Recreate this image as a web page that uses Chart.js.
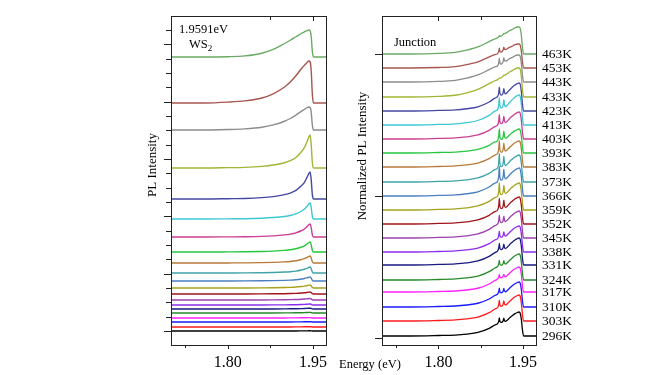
<!DOCTYPE html>
<html>
<head>
<meta charset="utf-8">
<script src="https://cdn.jsdelivr.net/npm/chart.js@4.4.1/dist/chart.umd.min.js"></script>
<style>
  html, body { margin: 0; padding: 0; background: #fff; }
  #wrap { position: relative; width: 667px; height: 375px; overflow: hidden; }
  #leftChart { position: absolute; left: 0; top: 0; }
  #rightChart { position: absolute; left: 330px; top: 0; }
</style>
</head>
<body>
<div id="wrap">
  <canvas id="leftChart" width="336" height="375"></canvas>
  <canvas id="rightChart" width="337" height="375"></canvas>
</div>
<script>
// temperatures, top curve first
const temps = ['463K', '453K', '443K', '433K', '423K', '413K', '403K', '393K', '383K', '373K', '366K',
  '359K', '352K', '345K', '338K', '331K', '324K', '317K', '310K', '303K', '296K'];
const colors = ['#6aaa64', '#a8554f', '#8c8c8c', '#a3b534', '#4548a3', '#3cc8d2', '#cc3d95', '#27c63f',
  '#b87a38', '#3fa3a8', '#4a80c0', '#a6a21e', '#a0151b', '#9d3fb0', '#8c2cf0', '#181a80', '#26892a',
  '#ff22ff', '#1a1aff', '#ff1a1a', '#000000'];

// left panel: PL intensity (offset stack)
const energyL = [1.700, 1.760, 1.800, 1.830, 1.860, 1.880, 1.900, 1.910, 1.920, 1.930, 1.935, 1.940, 1.943, 1.945, 1.947, 1.949, 1.951, 1.973];
const broadL  = [0, 0, 0.01, 0.04, 0.14, 0.28, 0.50, 0.62, 0.75, 0.88, 0.93, 0.98, 1.00, 0.97, 0.75, 0.20, 0, 0];
const midL    = [0, 0, 0.02, 0.05, 0.12, 0.22, 0.38, 0.50, 0.65, 0.82, 0.90, 0.97, 1.00, 0.98, 0.75, 0.20, 0, 0];
const sharpL  = [0, 0, 0.01, 0.02, 0.05, 0.09, 0.16, 0.22, 0.32, 0.50, 0.62, 0.82, 0.95, 1.00, 0.70, 0.15, 0, 0];
const profileL = [0, 1, 1, 2, 2, 2, 2, 2, 2, 2, 2, 2, 2, 2, 2, 2, 2, 2, 2, 2, 2];
const offsetL = [288, 242, 215, 177, 146, 126, 108, 93, 82, 72, 64, 57, 51, 45, 40, 36, 32, 27, 23, 18, 14];
const peakL   = [27, 42, 23, 33, 27, 16, 13, 10, 7, 6, 4, 3, 2, 1.5, 1, 0.8, 0.6, 0.4, 0.3, 0.3, 0.2];

// right panel: normalized PL (junction)
const energyR = [1.700, 1.750, 1.800, 1.830, 1.850, 1.870, 1.890, 1.900, 1.905, 1.907, 1.908, 1.909, 1.911, 1.913,
  1.915, 1.916, 1.917, 1.919, 1.922, 1.926, 1.930, 1.935, 1.940, 1.943, 1.945, 1.947, 1.949, 1.951, 1.960, 1.973];
const humpHotR  = [0, 0, 0.02, 0.06, 0.14, 0.26, 0.46, 0.56, 0.60, 0.62, 0.63, 0.64, 0.66, 0.69,
  0.72, 0.73, 0.74, 0.77, 0.80, 0.86, 0.90, 0.96, 1.00, 1.00, 0.95, 0.70, 0.25, 0, 0, 0];
const humpCoolR = [0, 0, 0.02, 0.04, 0.08, 0.15, 0.32, 0.46, 0.52, 0.54, 0.55, 0.56, 0.57, 0.58,
  0.60, 0.60, 0.60, 0.61, 0.66, 0.75, 0.83, 0.92, 0.98, 1.00, 0.95, 0.70, 0.25, 0, 0, 0];
const spikeR    = [0, 0, 0, 0, 0, 0, 0, 0, 0, 0.4, 1.0, 0.25, 0, 0,
  0.25, 0.7, 0.25, 0, 0, 0, 0, 0, 0, 0, 0, 0, 0, 0, 0, 0];
const profileR = [0, 0, 0, 0, 1, 1, 1, 1, 1, 1, 1, 1, 1, 1, 1, 1, 1, 1, 1, 1, 1];
const offsetR = [291, 277, 263, 248, 234, 220, 206, 192, 178, 163, 149, 135, 121, 107, 93, 80, 65, 53, 38, 24, 9];
const peakR   = [27, 24, 27, 29, 28, 30, 27, 24, 26, 27, 28, 27, 27, 27, 26, 27, 26, 25, 25, 26, 24];
const spikeAmpR = [0.05, 0.2, 0.25, 0.03, 0.3, 0.35, 0.35, 0.45, 0.45, 0.5, 0.5, 0.45, 0.4, 0.3, 0.25, 0.25, 0.2, 0.15, 0.2, 0.25, 0.2];

const xTicks = [1.725, 1.80, 1.875, 1.95];
const xTickLabels = ['', '1.80', '', '1.95'];
const rightYTicks = [7, 149, 291];

const SERIF = "'Liberation Serif', 'Times New Roman', serif";

const leftDatasets = temps.map((t, k) => {
  const prof = [broadL, midL, sharpL][profileL[k]];
  return {
    label: t,
    data: energyL.map((e, i) => ({ x: e, y: offsetL[k] + peakL[k] * prof[i] })),
    borderColor: colors[k],
    borderWidth: 1.4,
    pointRadius: 0,
    cubicInterpolationMode: 'monotone'
  };
});

const rightDatasets = temps.map((t, k) => {
  const hump = [humpHotR, humpCoolR][profileR[k]];
  return {
    label: t,
    data: energyR.map((e, i) => ({ x: e, y: offsetR[k] + peakR[k] * (hump[i] + spikeAmpR[k] * spikeR[i]) })),
    borderColor: colors[k],
    borderWidth: 1.3,
    pointRadius: 0,
    cubicInterpolationMode: 'monotone'
  };
});

function tickLine(ctx, x1, y1, x2, y2) {
  ctx.beginPath();
  ctx.moveTo(x1, y1);
  ctx.lineTo(x2, y2);
  ctx.stroke();
}

// box + tick marks (bottom out, top mirrored inward, left out)
function framePlugin(yTicks, topTicks, texts) {
  return {
    id: 'frame',
    afterDraw(chart) {
      const { ctx, chartArea: a, scales } = chart;
      ctx.save();
      ctx.strokeStyle = '#222';
      ctx.lineWidth = 1;
      ctx.strokeRect(Math.round(a.left) + 0.5, Math.round(a.top) + 0.5,
        Math.round(a.right - a.left), Math.round(a.bottom - a.top));
      xTicks.forEach((v, i) => {
        const px = Math.round(scales.x.getPixelForValue(v)) + 0.5;
        const major = xTickLabels[i] !== '';
        tickLine(ctx, px, a.bottom, px, a.bottom + (major ? 4 : 3));
        if (topTicks.includes(v)) tickLine(ctx, px, a.top, px, a.top + (major ? 5 : 4));
      });
      yTicks.forEach(t => {
        const py = Math.round(scales.y.getPixelForValue(t.v)) + 0.5;
        tickLine(ctx, a.left, py, a.left - t.len, py);
      });
      texts(ctx);
      ctx.restore();
    }
  };
}

const leftYTicks = [];
for (let i = 0; i <= 21; i++) leftYTicks.push({ v: 14 + i * 14.33, len: i % 4 === 0 ? 7 : 5 });

function xScale() {
  return {
    type: 'linear',
    min: 1.70,
    max: 1.973,
    grid: { display: false, drawTicks: false },
    border: { display: false },
    afterBuildTicks: s => { s.ticks = xTicks.map(v => ({ value: v })); },
    afterFit: s => { s.height = 30; },
    ticks: {
      autoSkip: false,
      maxRotation: 0,
      padding: 8,
      color: '#000',
      font: { family: SERIF, size: 16 },
      callback: (v, i) => xTickLabels[i]
    }
  };
}

new Chart(document.getElementById('leftChart'), {
  type: 'line',
  data: { datasets: leftDatasets },
  options: {
    responsive: false,
    animation: false,
    layout: { padding: { left: 0, right: 10, top: 16, bottom: 0 } },
    plugins: { legend: { display: false }, tooltip: { enabled: false } },
    scales: {
      x: xScale(),
      y: {
        type: 'linear', min: 0, max: 329,
        grid: { display: false, drawTicks: false }, border: { display: false },
        ticks: { display: false },
        afterFit: s => { s.width = 171; }
      }
    }
  },
  plugins: [framePlugin(leftYTicks, [1.875, 1.95], ctx => {
    ctx.fillStyle = '#000';
    ctx.textBaseline = 'middle';
    ctx.font = '12.5px ' + SERIF;
    ctx.fillText('1.9591eV', 179, 30);
    ctx.fillText('WS', 189, 45);
    const w = ctx.measureText('WS').width;
    ctx.font = '9px ' + SERIF;
    ctx.fillText('2', 189 + w, 49);
    ctx.save();
    ctx.translate(153, 165);
    ctx.rotate(-Math.PI / 2);
    ctx.textAlign = 'center';
    ctx.font = '13px ' + SERIF;
    ctx.fillText('PL Intensity', 0, 0);
    ctx.restore();
  })]
});

new Chart(document.getElementById('rightChart'), {
  type: 'line',
  data: { datasets: rightDatasets },
  options: {
    responsive: false,
    animation: false,
    layout: { padding: { left: 0, right: 0, top: 16, bottom: 0 } },
    plugins: { legend: { display: false }, tooltip: { enabled: false } },
    scales: {
      x: xScale(),
      y: {
        type: 'linear', min: 0, max: 329,
        grid: { display: false, drawTicks: false }, border: { display: false },
        ticks: { display: false },
        afterFit: s => { s.width = 52; }
      },
      y2: {
        type: 'linear', position: 'right', min: 0, max: 329,
        grid: { display: false, drawTicks: false }, border: { display: false },
        afterBuildTicks: s => { s.ticks = offsetR.map(v => ({ value: v })); },
        afterFit: s => { s.width = 131; },
        ticks: {
          autoSkip: false,
          padding: 6,
          color: '#000',
          font: { family: SERIF, size: 13.5 },
          callback: (v, i) => temps[i]
        }
      }
    }
  },
  plugins: [framePlugin(rightYTicks.map(v => ({ v: v, len: 7 })), [1.80, 1.875, 1.95], ctx => {
    ctx.fillStyle = '#000';
    ctx.textBaseline = 'middle';
    ctx.font = '12.5px ' + SERIF;
    ctx.fillText('Junction', 64, 43);
    ctx.fillText('Energy (eV)', 9, 365);
    ctx.save();
    ctx.translate(33, 156);
    ctx.rotate(-Math.PI / 2);
    ctx.textAlign = 'center';
    ctx.font = '13px ' + SERIF;
    ctx.fillText('Normalized PL Intensity', 0, 0);
    ctx.restore();
  })]
});
</script>
</body>
</html>
